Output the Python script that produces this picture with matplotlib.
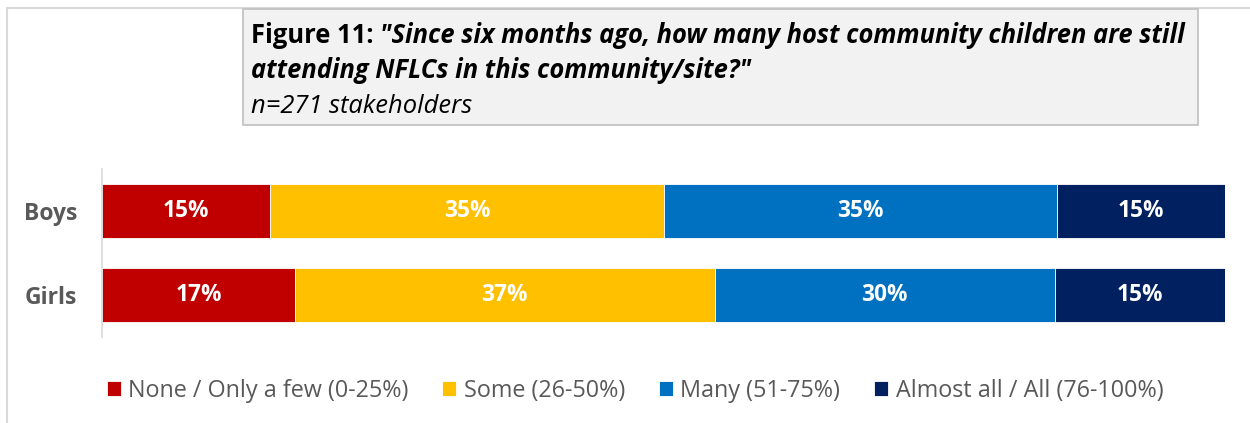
import matplotlib
matplotlib.use("Agg")
import matplotlib.pyplot as plt
from matplotlib.patches import Rectangle
import numpy as np

plt.rcParams['font.family'] = ['Open Sans', 'DejaVu Sans']

categories = ["Boys", "Girls"]
series_names = ["None / Only a few (0-25%)", "Some (26-50%)",
                "Many (51-75%)", "Almost all / All (76-100%)"]
none_few = [15, 17]
some = [35, 37]
many = [35, 30]
almost_all = [15, 15]
colors = ["#C00000", "#FFC000", "#0070C0", "#002060"]

title_bold = "Figure 11: "
title_q1 = "\"Since six months ago, how many host community children are still"
title_q2 = "attending NFLCs in this community/site?\""
title_n = "n=271 stakeholders"

W, H = 1250, 423
fig = plt.figure(figsize=(W / 100, H / 100), dpi=100)
fig.patch.set_facecolor("white")

def fx(px):
    return px / W

def fy(py):
    return 1 - py / H

# outer chart frame
fig.add_artist(Rectangle((fx(7), fy(440)), fx(1260) - fx(7), fy(8) - fy(440),
                         transform=fig.transFigure, fill=False,
                         edgecolor="#d9d9d9", linewidth=1.5))

ax = fig.add_axes([fx(102), fy(337), fx(1225) - fx(102), fy(169) - fy(337)])

series = [none_few, some, many, almost_all]
data = np.array(series, dtype=float)
totals = data.sum(axis=0)
shares = data / totals * 100
y = np.arange(len(categories))
left = np.zeros(len(categories))
handles = []
for vals, shr, col, name in zip(series, shares, colors, series_names):
    bars = ax.barh(y, shr, left=left, height=0.643, color=col,
                   edgecolor="white", linewidth=0.6, label=name)
    handles.append(bars)
    for yi, v, s, l in zip(y, vals, shr, left):
        ax.text(l + s / 2, yi, f"{v}%", ha="center", va="center",
                color="white", fontsize=16.3, fontweight="bold")
    left = left + shr

ax.set_xlim(0, 100)
ax.set_ylim(1.5, -0.5)
ax.set_yticks(y)
ax.set_yticklabels(categories, fontsize=16.5, fontweight="bold", color="#595959")
ax.tick_params(axis="y", length=0, pad=18)
ax.set_xticks([])
for side in ["top", "right", "bottom"]:
    ax.spines[side].set_visible(False)
ax.spines["left"].set_color("#d9d9d9")
ax.spines["left"].set_linewidth(1.2)
ax.set_facecolor("none")

# title box
fig.add_artist(Rectangle((fx(243), fy(125)), fx(1198) - fx(243), fy(9) - fy(125),
                         transform=fig.transFigure, facecolor="#f2f2f2",
                         edgecolor="#bfbfbf", linewidth=1.2))
fig.canvas.draw()
renderer = fig.canvas.get_renderer()
tsize = 18.4
t1 = fig.text(fx(251), fy(43), title_bold, fontsize=tsize, fontweight="bold",
              color="black", va="baseline")
bb = t1.get_window_extent(renderer)
t2 = fig.text(bb.x1 / W, fy(43), title_q1, fontsize=tsize,
              fontweight="bold", style="italic", color="black", va="baseline")
fig.text(fx(251), fy(78), title_q2, fontsize=tsize, fontweight="bold",
         style="italic", color="black", va="baseline")
fig.text(fx(251), fy(113), title_n, fontsize=tsize, style="italic",
         color="black", va="baseline")

leg = fig.legend(handles=handles, labels=series_names, loc="center",
                 bbox_to_anchor=(fx(635), fy(391)), ncol=4, frameon=False,
                 fontsize=16.8, labelcolor="#595959", handlelength=0.6,
                 handleheight=0.6, handletextpad=0.32, columnspacing=1.45)

fig.savefig("out.png", dpi=100, facecolor="white")
